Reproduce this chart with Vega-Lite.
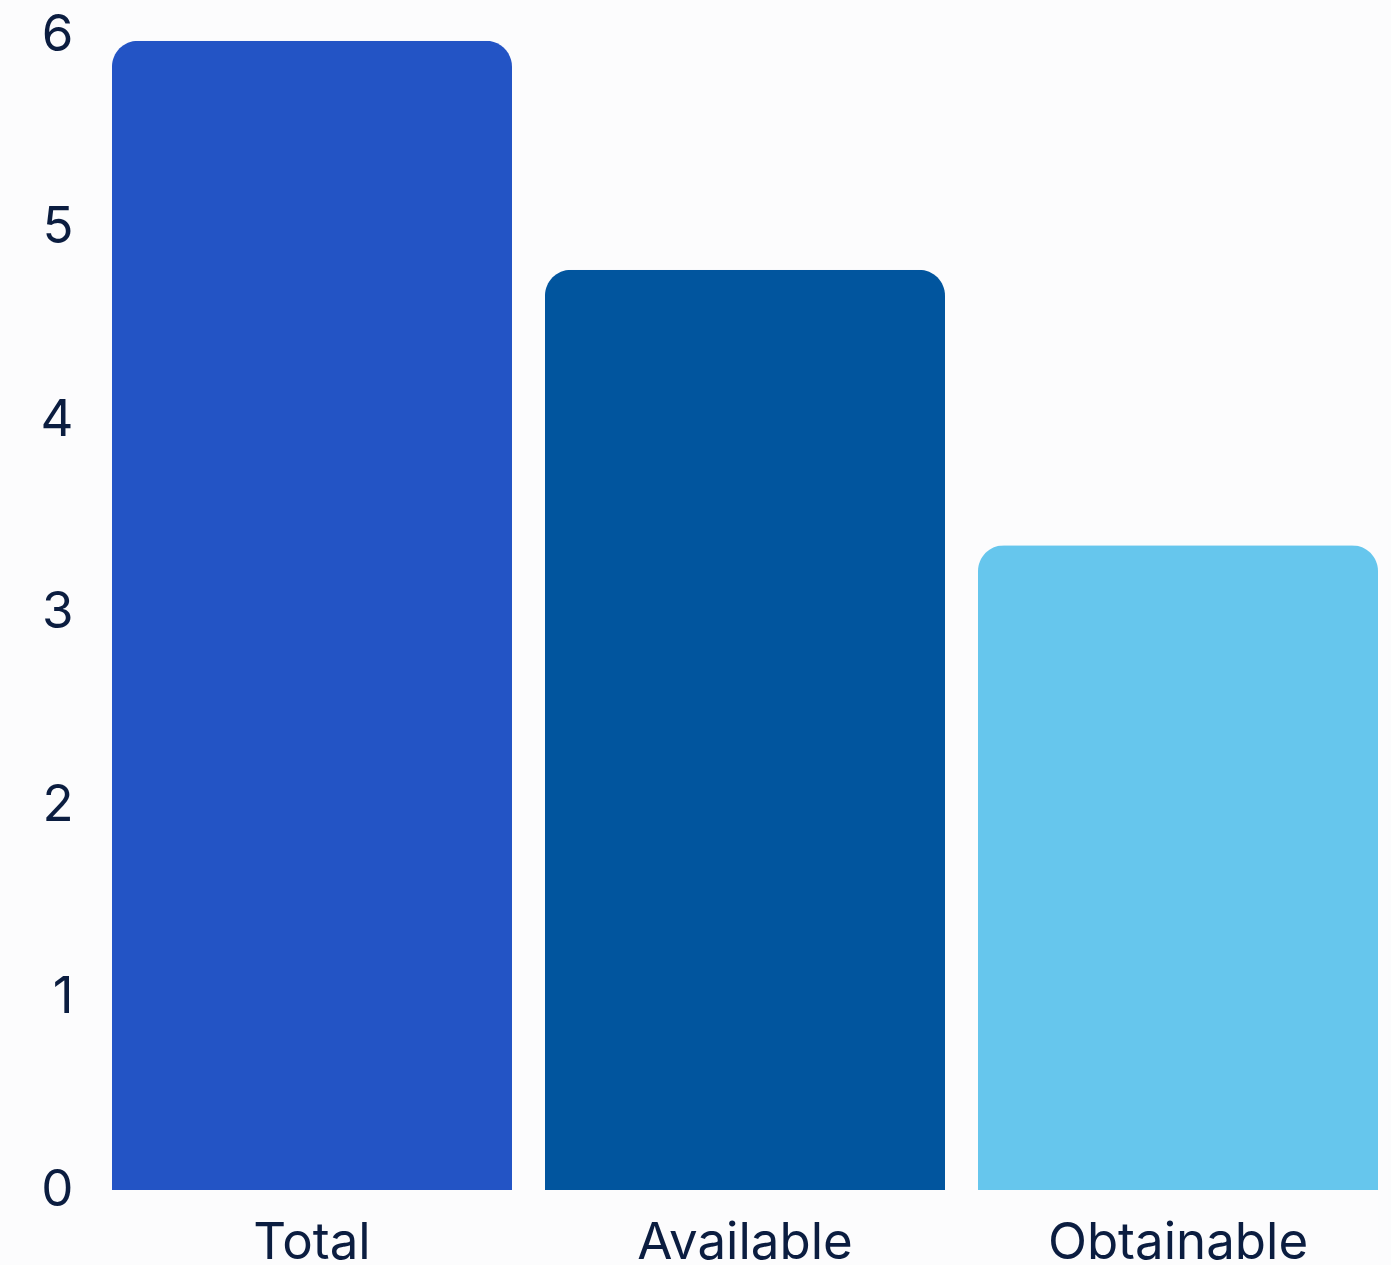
{
  "$schema": "https://vega.github.io/schema/vega-lite/v6.json",
  "width": 1292,
  "height": 1155,
  "autosize": {"type": "none"},
  "padding": {"left": 99, "top": 35, "right": 0, "bottom": 75},
  "background": "#fcfcfd",
  "config": {"view": {"stroke": null}},
  "data": {"values": [
    {"category": "Total", "value": 5.97},
    {"category": "Available", "value": 4.78},
    {"category": "Obtainable", "value": 3.35}
  ]},
  "mark": {"type": "bar", "cornerRadiusTopLeft": 26, "cornerRadiusTopRight": 26},
  "encoding": {
    "x": {
      "field": "category", "type": "nominal", "sort": null,
      "scale": {"paddingInner": 0.0762, "paddingOuter": 0.03},
      "axis": {"title": null, "labelAngle": 0, "domain": false, "ticks": false, "labelLimit": 0, "labelFont": "Inter", "labelFontSize": 51, "labelColor": "#0b1d40", "labelPadding": 28}
    },
    "y": {
      "field": "value", "type": "quantitative",
      "scale": {"domain": [0, 6], "nice": false},
      "axis": {"title": null, "grid": false, "domain": false, "ticks": false, "tickCount": 6, "labelFont": "Inter", "labelFontSize": 51, "labelColor": "#0b1d40", "labelPadding": 26}
    },
    "color": {
      "field": "category", "type": "nominal", "legend": null,
      "scale": {"domain": ["Total", "Available", "Obtainable"], "range": ["#2354c5", "#01559e", "#66c6ed"]}
    }
  }
}
